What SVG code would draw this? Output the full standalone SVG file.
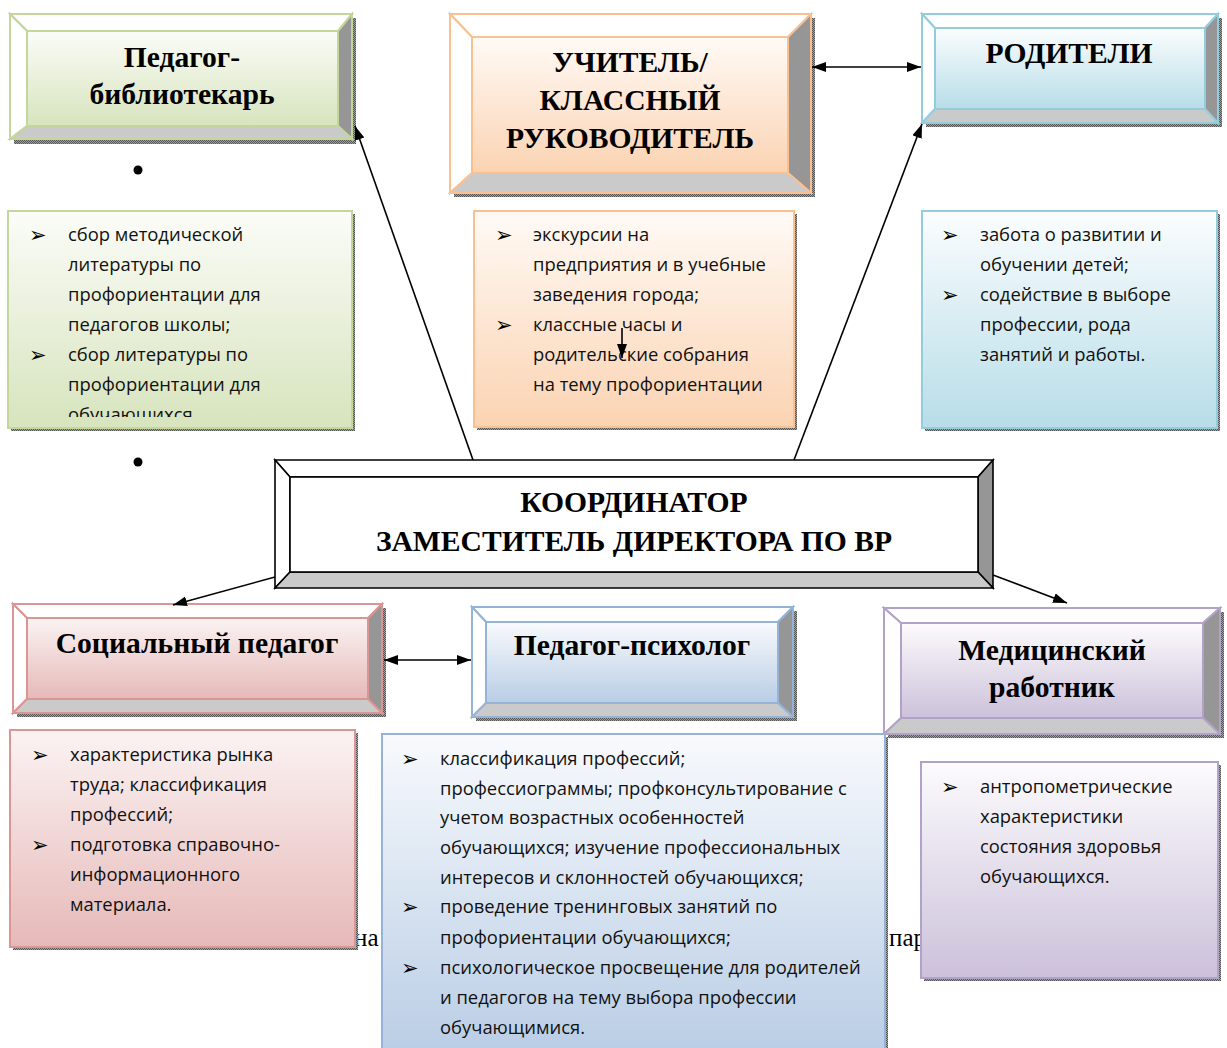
<svg xmlns="http://www.w3.org/2000/svg" width="1227" height="1048" viewBox="0 0 1227 1048">
<style>
.t{font-family:"Liberation Serif","Times New Roman",serif;font-weight:bold;font-size:29.6px;text-anchor:middle;fill:#000}
.l{font-family:"Open Sans","Noto Sans",sans-serif;font-size:18.4px;fill:#111}
.b{font-family:"DejaVu Sans",sans-serif;font-size:21px;fill:#000}
.s{font-family:"Liberation Serif","Times New Roman",serif;font-size:25px;fill:#000}
.bt{fill:#fff}
.br{fill:#969696}
.bb{fill:#cacaca}
.sh{fill:url(#dots)}
.green polygon,.green rect.f,.green line{stroke:#c3d69b}
.orange polygon,.orange rect.f,.orange line{stroke:#fac090}
.blue polygon,.blue rect.f,.blue line{stroke:#93cddd}
.red polygon,.red rect.f,.red line{stroke:#d99694}
.blue2 polygon,.blue2 rect.f,.blue2 line{stroke:#95b3d7}
.purple polygon,.purple rect.f,.purple line{stroke:#b3a2c7}
.black polygon,.black rect.f,.black line{stroke:#000}
polygon,rect.f,line.e{stroke-width:2}
.black polygon,.black rect.f,.black line.e{stroke-width:1.6}
.con line{stroke:#000;stroke-width:1.6;fill:none}
</style>
<defs>
<pattern id="dots" width="2" height="2" patternUnits="userSpaceOnUse">
<rect width="2" height="2" fill="#a0a0a0"/>
<rect width="1" height="1" fill="#555"/>
<rect x="1" y="1" width="1" height="1" fill="#555"/>
</pattern>
<linearGradient id="gGreen" x1="0" y1="0" x2="0" y2="1"><stop offset="0" stop-color="#fbfcf8"/><stop offset="1" stop-color="#d7e4bd"/></linearGradient>
<linearGradient id="gOrange" x1="0" y1="0" x2="0" y2="1"><stop offset="0" stop-color="#fffaf6"/><stop offset="1" stop-color="#fbd3b2"/></linearGradient>
<linearGradient id="gBlue" x1="0" y1="0" x2="0" y2="1"><stop offset="0" stop-color="#fbfdfe"/><stop offset="1" stop-color="#b7dde8"/></linearGradient>
<linearGradient id="gRed" x1="0" y1="0" x2="0" y2="1"><stop offset="0" stop-color="#fbf3f3"/><stop offset="1" stop-color="#e6b9b8"/></linearGradient>
<linearGradient id="gBlue2" x1="0" y1="0" x2="0" y2="1"><stop offset="0" stop-color="#f8fafd"/><stop offset="1" stop-color="#b9cde5"/></linearGradient>
<linearGradient id="gPurple" x1="0" y1="0" x2="0" y2="1"><stop offset="0" stop-color="#fcfbfd"/><stop offset="1" stop-color="#ccc1da"/></linearGradient>
<marker id="ah" markerUnits="userSpaceOnUse" markerWidth="16" markerHeight="12" refX="14" refY="5" orient="auto-start-reverse" viewBox="0 0 16 12">
<path d="M0,0 L14,5 L0,10 z" fill="#000"/>
</marker>
<clipPath id="clipD"><rect x="8" y="211" width="344" height="206"/></clipPath>
</defs>

<!-- stray text behind boxes -->
<text class="s" x="354" y="946">на</text>
<text class="s" x="889" y="946">пар</text>

<!-- Title: Педагог-библиотекарь -->
<g id="node-librarian" class="green">
<rect class="sh" x="14" y="18" width="342" height="126"/>
<polygon class="bt" points="10,14 352,14 338,31 27,31"/>
<polygon class="bt" points="10,14 27,31 27,126 10,139"/>
<polygon class="br" points="352,14 352,139 338,126 338,31"/>
<polygon class="bb" points="10,139 27,126 338,126 352,139"/>
<rect class="f" x="27" y="31" width="311" height="95" fill="url(#gGreen)"/>
<text class="t" x="182" y="67">Педагог-</text>
<text class="t" x="182" y="104">библиотекарь</text>
</g>

<!-- Title: Учитель -->
<g id="node-teacher" class="orange">
<rect class="sh" x="454" y="18" width="361" height="179"/>
<polygon class="bt" points="450,14 811,14 788,37 472,37"/>
<polygon class="bt" points="450,14 472,37 472,173 450,193"/>
<polygon class="br" points="811,14 811,193 788,173 788,37"/>
<polygon class="bb" points="450,193 472,173 788,173 811,193"/>
<rect class="f" x="472" y="37" width="316" height="136" fill="url(#gOrange)"/>
<text class="t" x="630" y="72">УЧИТЕЛЬ/</text>
<text class="t" x="630" y="110">КЛАССНЫЙ</text>
<text class="t" x="630" y="148">РУКОВОДИТЕЛЬ</text>
</g>

<!-- Title: Родители -->
<g id="node-parents" class="blue">
<rect class="sh" x="926" y="18" width="296" height="109"/>
<polygon class="bt" points="922,14 1218,14 1205,28 935,28"/>
<polygon class="bt" points="922,14 935,28 935,109 922,123"/>
<polygon class="br" points="1218,14 1218,123 1205,109 1205,28"/>
<polygon class="bb" points="922,123 935,109 1205,109 1218,123"/>
<rect class="f" x="935" y="28" width="270" height="81" fill="url(#gBlue)"/>
<text class="t" x="1069" y="63">РОДИТЕЛИ</text>
</g>

<!-- bullets dots -->
<g id="dots-marks">
<circle cx="138" cy="170" r="4.5" fill="#000"/>
<circle cx="138" cy="462" r="4.5" fill="#000"/>
</g>

<!-- List: librarian -->
<g id="list-librarian" class="green">
<rect class="sh" x="11" y="214" width="344" height="217"/>
<rect class="f" x="8" y="211" width="344" height="217" fill="url(#gGreen)"/>
<g clip-path="url(#clipD)">
<text class="b" x="29" y="242">➢</text>
<text class="b" x="29" y="362">➢</text>
<text class="l" x="68" y="241">сбор методической</text>
<text class="l" x="68" y="271">литературы по</text>
<text class="l" x="68" y="301">профориентации для</text>
<text class="l" x="68" y="331">педагогов школы;</text>
<text class="l" x="68" y="361">сбор литературы по</text>
<text class="l" x="68" y="391">профориентации для</text>
<text class="l" x="68" y="421">обучающихся</text>
</g>
</g>

<!-- List: teacher -->
<g id="list-teacher" class="orange">
<rect class="sh" x="477" y="214" width="320" height="216"/>
<rect class="f" x="474" y="211" width="320" height="216" fill="url(#gOrange)"/>
<text class="b" x="495" y="242">➢</text>
<text class="b" x="495" y="332">➢</text>
<text class="l" x="533" y="241">экскурсии на</text>
<text class="l" x="533" y="271">предприятия и в учебные</text>
<text class="l" x="533" y="301">заведения города;</text>
<text class="l" x="533" y="331">классные часы и</text>
<text class="l" x="533" y="361">родительские собрания</text>
<text class="l" x="533" y="391">на тему профориентации</text>
</g>

<!-- List: parents -->
<g id="list-parents" class="blue">
<rect class="sh" x="925" y="214" width="295" height="217"/>
<rect class="f" x="922" y="211" width="295" height="217" fill="url(#gBlue)"/>
<text class="b" x="941" y="242">➢</text>
<text class="b" x="941" y="302">➢</text>
<text class="l" x="980" y="241">забота о развитии и</text>
<text class="l" x="980" y="271">обучении детей;</text>
<text class="l" x="980" y="301">содействие в выборе</text>
<text class="l" x="980" y="331">профессии, рода</text>
<text class="l" x="980" y="361">занятий и работы.</text>
</g>

<!-- Coordinator -->
<g id="node-coordinator" class="black">
<polygon class="bt" points="275,460 993,460 978,477 290,477"/>
<polygon class="bt" points="275,460 290,477 290,572 275,588"/>
<polygon class="br" points="993,460 993,588 978,572 978,477"/>
<polygon class="bb" points="275,588 290,572 978,572 993,588"/>
<rect class="f" x="290" y="477" width="688" height="95" fill="#fff"/>
<text class="t" x="634" y="512">КООРДИНАТОР</text>
<text class="t" x="634" y="551">ЗАМЕСТИТЕЛЬ ДИРЕКТОРА ПО ВР</text>
</g>

<!-- Title: Социальный педагог -->
<g id="node-social" class="red">
<rect class="sh" x="17" y="608" width="369" height="109"/>
<polygon class="bt" points="13,604 382,604 368,618 27,618"/>
<polygon class="bt" points="13,604 27,618 27,699 13,713"/>
<polygon class="br" points="382,604 382,713 368,699 368,618"/>
<polygon class="bb" points="13,713 27,699 368,699 382,713"/>
<rect class="f" x="27" y="618" width="341" height="81" fill="url(#gRed)"/>
<text class="t" x="197" y="653">Социальный педагог</text>
</g>

<!-- Title: Педагог-психолог -->
<g id="node-psychologist" class="blue2">
<rect class="sh" x="476" y="611" width="321" height="110"/>
<polygon class="bt" points="472,607 793,607 778,622 486,622"/>
<polygon class="bt" points="472,607 486,622 486,703 472,717"/>
<polygon class="br" points="793,607 793,717 778,703 778,622"/>
<polygon class="bb" points="472,717 486,703 778,703 793,717"/>
<rect class="f" x="486" y="622" width="292" height="81" fill="url(#gBlue2)"/>
<text class="t" x="632" y="655">Педагог-психолог</text>
</g>

<!-- Title: Медицинский работник -->
<g id="node-medical" class="purple">
<rect class="sh" x="888" y="612" width="336" height="126"/>
<polygon class="bt" points="884,608 1220,608 1203,623 901,623"/>
<polygon class="bt" points="884,608 901,623 901,718 884,734"/>
<polygon class="br" points="1220,608 1220,734 1203,718 1203,623"/>
<polygon class="bb" points="884,734 901,718 1203,718 1220,734"/>
<rect class="f" x="901" y="623" width="302" height="95" fill="url(#gPurple)"/>
<text class="t" x="1052" y="660">Медицинский</text>
<text class="t" x="1052" y="697">работник</text>
</g>

<!-- List: social -->
<g id="list-social" class="red">
<rect class="sh" x="13" y="733" width="345" height="217"/>
<rect class="f" x="10" y="730" width="345" height="217" fill="url(#gRed)"/>
<text class="b" x="31" y="762">➢</text>
<text class="b" x="31" y="852">➢</text>
<text class="l" x="70" y="761">характеристика рынка</text>
<text class="l" x="70" y="791">труда; классификация</text>
<text class="l" x="70" y="821">профессий;</text>
<text class="l" x="70" y="851">подготовка справочно-</text>
<text class="l" x="70" y="881">информационного</text>
<text class="l" x="70" y="911">материала.</text>
</g>

<!-- List: psychologist -->
<g id="list-psychologist" class="blue2">
<rect class="sh" x="385" y="737" width="503" height="320"/>
<rect class="f" x="382" y="734" width="503" height="320" fill="url(#gBlue2)"/>
<text class="b" x="401" y="766">➢</text>
<text class="b" x="401" y="914">➢</text>
<text class="b" x="401" y="975">➢</text>
<text class="l" x="440" y="765">классификация профессий;</text>
<text class="l" x="440" y="795">профессиограммы; профконсультирование с</text>
<text class="l" x="440" y="824">учетом возрастных особенностей</text>
<text class="l" x="440" y="854">обучающихся; изучение профессиональных</text>
<text class="l" x="440" y="884">интересов и склонностей обучающихся;</text>
<text class="l" x="440" y="913">проведение тренинговых занятий по</text>
<text class="l" x="440" y="944">профориентации обучающихся;</text>
<text class="l" x="440" y="974">психологическое просвещение для родителей</text>
<text class="l" x="440" y="1004">и педагогов на тему выбора профессии</text>
<text class="l" x="440" y="1034">обучающимися.</text>
</g>

<!-- List: medical -->
<g id="list-medical" class="purple">
<rect class="sh" x="924" y="765" width="297" height="216"/>
<rect class="f" x="921" y="762" width="297" height="216" fill="url(#gPurple)"/>
<text class="b" x="941" y="794">➢</text>
<text class="l" x="980" y="793">антропометрические</text>
<text class="l" x="980" y="823">характеристики</text>
<text class="l" x="980" y="853">состояния здоровья</text>
<text class="l" x="980" y="883">обучающихся.</text>
</g>

<!-- Connectors -->
<g id="connectors" class="con">
<line x1="473" y1="460" x2="355" y2="126" marker-end="url(#ah)"/>
<line x1="794" y1="460" x2="922" y2="124" marker-end="url(#ah)"/>
<line x1="812" y1="67" x2="921" y2="67" marker-start="url(#ah)" marker-end="url(#ah)"/>
<line x1="275" y1="577" x2="173" y2="605" marker-end="url(#ah)"/>
<line x1="993" y1="575" x2="1067" y2="603" marker-end="url(#ah)"/>
<line x1="384" y1="660" x2="471" y2="660" marker-start="url(#ah)" marker-end="url(#ah)"/>
<line x1="622" y1="328" x2="622" y2="358" marker-end="url(#ah)"/>
</g>
</svg>
